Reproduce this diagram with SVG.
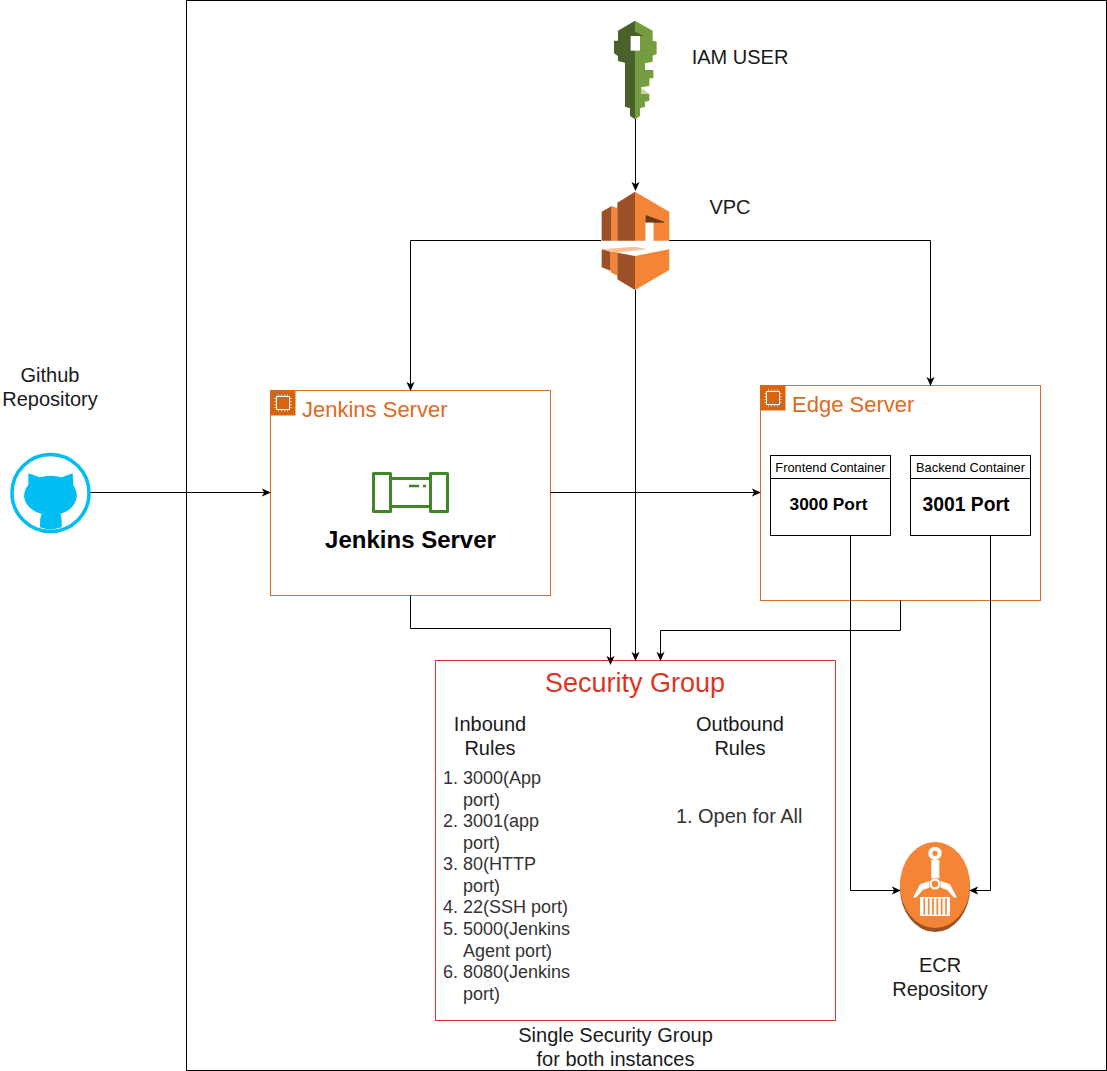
<svg xmlns="http://www.w3.org/2000/svg" width="1107" height="1071" viewBox="0 0 1107 1071">
<defs>
<marker id="arrow" viewBox="0 0 10 10" refX="9" refY="5" markerWidth="9" markerHeight="9" markerUnits="userSpaceOnUse" orient="auto"><path d="M0 0.5L10 5L0 9.5L2.5 5Z" fill="#000"/></marker>
<g id="chip"><rect width="25" height="25" fill="#D9640F"/><rect x="6" y="6" width="13" height="13" fill="none" stroke="#fff" stroke-width="1"/><path d="M8 4V6M11 4V6M14 4V6M17 4V6M8 19V21M11 19V21M14 19V21M17 19V21M4 8H6M4 11H6M4 14H6M4 17H6M19 8H21M19 11H21M19 14H21M19 17H21" stroke="#fff" stroke-width="0.7" fill="none"/></g>
</defs>
<style>
text{font-family:"Liberation Sans",Arial,sans-serif;fill:#1a1a1a;font-size:20px;text-anchor:middle}
.conn path{fill:none;stroke:#000;stroke-width:1;marker-end:url(#arrow)}
.asg{fill:#fff;stroke:#DD6B1E;stroke-width:1}
.asgt{fill:#DD6B1E;font-size:22px;text-anchor:start}
.box{fill:#fff;stroke:#000;stroke-width:1}
.list{font-size:18px;text-anchor:start;fill:#333}
.b{font-weight:bold;fill:#000}
.head{font-size:12.800px;fill:#000}
</style>
<rect width="1107" height="1071" fill="#fff"/>
<rect id="frame" x="186.500" y="0.500" width="920" height="1070" fill="#fff" stroke="#000" stroke-width="1"/>

<g id="jenkins">
<rect class="asg" x="270.500" y="390.500" width="280" height="205"/>
<use href="#chip" x="270.500" y="390.500"/>
<text class="asgt" x="302" y="417">Jenkins Server</text>
<g fill="#fff" stroke="#3F8624" stroke-width="3" stroke-linejoin="round">
<rect x="390.500" y="478.500" width="40" height="28"/>
<rect x="373.500" y="473.500" width="17" height="38"/>
<rect x="430.500" y="473.500" width="17" height="38"/>
</g>
<path d="M409 486H419M423 486H426" stroke="#3F8624" stroke-width="2.500" fill="none"/>
<text class="b" x="410.500" y="548" style="font-size:24px">Jenkins Server</text>
</g>

<g id="edge">
<rect class="asg" x="760.500" y="385.500" width="280" height="215"/>
<use href="#chip" x="760.500" y="385.500"/>
<text class="asgt" x="792" y="412">Edge Server</text>
<g id="frontend">
<rect class="box" x="770.500" y="455.500" width="120" height="80"/>
<path d="M770.500 478.500H890.500" stroke="#000"/>
<text class="head" x="830.500" y="472">Frontend Container</text>
<text class="b" x="828.500" y="510" style="font-size:17.300px">3000 Port</text>
</g>
<g id="backend">
<rect class="box" x="910.500" y="455.500" width="120" height="80"/>
<path d="M910.500 478.500H1030.500" stroke="#000"/>
<text class="head" x="970.500" y="472">Backend Container</text>
<text class="b" x="966" y="511" style="font-size:19.300px">3001 Port</text>
</g>
</g>

<g id="security">
<rect x="435.500" y="660.500" width="400" height="360" fill="#fff" stroke="#DD3522" stroke-width="1"/>
<text x="635" y="692" style="font-size:27px;fill:#DD3522">Security Group</text>
<text x="490" y="731">Inbound</text>
<text x="490" y="755">Rules</text>
<text x="740" y="731">Outbound</text>
<text x="740" y="755">Rules</text>
<text class="list" x="443" y="784">1.</text><text class="list" x="463" y="784">3000(App</text>
<text class="list" x="463" y="806">port)</text>
<text class="list" x="443" y="827">2.</text><text class="list" x="463" y="827">3001(app</text>
<text class="list" x="463" y="849">port)</text>
<text class="list" x="443" y="870">3.</text><text class="list" x="463" y="870">80(HTTP</text>
<text class="list" x="463" y="892">port)</text>
<text class="list" x="443" y="913">4.</text><text class="list" x="463" y="913">22(SSH port)</text>
<text class="list" x="443" y="935">5.</text><text class="list" x="463" y="935">5000(Jenkins</text>
<text class="list" x="463" y="957">Agent port)</text>
<text class="list" x="443" y="978">6.</text><text class="list" x="463" y="978">8080(Jenkins</text>
<text class="list" x="463" y="1000">port)</text>
<text class="list" x="676" y="823" style="font-size:20px">1.</text><text class="list" x="698" y="823" style="font-size:20px">Open for All</text>
<text x="615.500" y="1042">Single Security Group</text>
<text x="615.500" y="1066">for both instances</text>
</g>

<g id="connectors" class="conn">
<path d="M635.500 119V190"/>
<path d="M635.500 290V660"/>
<path d="M601 240.500H410.500V390"/>
<path d="M669 240.500H930.500V385"/>
<path d="M90 492.500H270"/>
<path d="M550.500 492.500H760"/>
<path d="M410.500 595.500V628.500H610.500V664"/>
<path d="M900.500 600.500V630.500H660.500V660"/>
<path d="M850.500 535.500V890.500H900"/>
<path d="M990.500 535.500V890.500H970"/>
</g>

<g id="iam">
<g transform="translate(590 10) scale(.33333)">
<path fill="#4B612C" d="M135 32L84 62V92H72V130L84 138V153L105 158V290L120 295V318L135 328Z"/>
<path fill="#759C3E" d="M135 32L188 62V92L200 95V132L188 137V155L165 160V180H190V205H178V228L153 232V248L178 252V272L165 275V290L150 295V318L135 328Z"/>
<path fill="#4B612C" d="M108 80L135 65L165 80V122H150V78H122V122H108Z"/>
<path fill="#759C3E" d="M150 78H165V122H150Z"/>
<path fill="#fff" d="M122 78H150V122H122Z"/>
<path fill="#C7D6A6" d="M153 232L178 252H153Z"/>
</g>
<text x="740" y="64">IAM USER</text>
</g>

<g id="vpc">
<g transform="translate(590 180) scale(.33333)">
<path fill="#9D5025" d="M35 95L65 78V182H35Z"/>
<path fill="#F58536" d="M65 78L82 85V182H65Z"/>
<path fill="#9D5025" d="M82 68L135 35V182H82Z"/>
<path fill="#F58536" d="M135 35L238 95V182H190V128H167V182H135Z"/>
<path fill="#6B3A19" d="M167 105L222 125V128H167Z"/>
<path fill="#fff" d="M167 128H190V182H167Z"/>
<path fill="#9D5025" d="M35 208L62 215V272L35 262Z"/>
<path fill="#F58536" d="M62 215H82V287L62 277Z"/>
<path fill="#FBBF93" d="M35 208L135 200L170 207L82 218Z"/>
<path fill="#9D5025" d="M82 218L135 228V330L82 298Z"/>
<path fill="#F58536" d="M135 228L238 208V270L135 330Z"/>
</g>
<text x="730" y="214">VPC</text>
</g>

<g id="github">
<circle cx="50.500" cy="493" r="38.500" fill="#fff" stroke="#00BEF2" stroke-width="3.500"/>
<g transform="translate(0 440) scale(.33333)">
<path fill="#00BEF2" d="M85 100L120 112Q150 103 185 112L218 100L220 135Q232 155 230 172Q224 208 182 222Q186 235 185 262Q150 275 120 262Q119 235 125 222Q78 208 72 170Q72 150 85 135Z"/>
</g>
<text x="50" y="382">Github</text>
<text x="50" y="406">Repository</text>
</g>

<g id="ecr">
<ellipse cx="935" cy="888" rx="35" ry="44" fill="#9D5025"/>
<ellipse cx="935" cy="885" rx="35" ry="43" fill="#F58536"/>
<g transform="translate(890 835) scale(.33333)">
<circle cx="135" cy="55" r="14" fill="none" stroke="#fff" stroke-width="12"/>
<path fill="#fff" d="M124 75H148L148 130H124Z"/>
<circle cx="135" cy="147" r="13" fill="#F58536" stroke="#fff" stroke-width="7"/>
<path fill="#fff" d="M118 138L90 148L70 186L78 188L98 165L118 158Z"/>
<path fill="#fff" d="M152 138L180 148L200 186L192 188L172 165L152 158Z"/>
<rect x="90" y="186" width="90" height="57" fill="#fff"/>
<path d="M103 190V239M116 190V239M129 190V239M142 190V239M155 190V239M168 190V239" stroke="#F58536" stroke-width="5" fill="none"/>
</g>
<text x="940" y="972">ECR</text>
<text x="940" y="996">Repository</text>
</g>
</svg>
